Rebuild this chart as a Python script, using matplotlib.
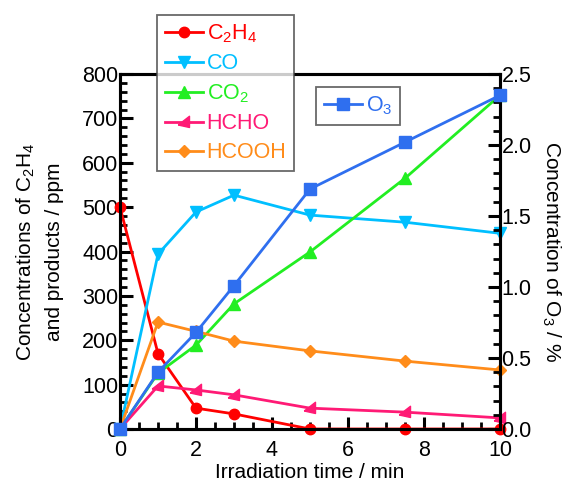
import numpy as np
import matplotlib.pyplot as plt
from matplotlib.ticker import MultipleLocator

plt.rcParams['font.family'] = ['Liberation Sans', 'DejaVu Sans']
plt.rcParams['mathtext.fontset'] = 'custom'
plt.rcParams['mathtext.rm'] = 'Liberation Sans'
plt.rcParams['mathtext.it'] = 'Liberation Sans'

# data
time = [0, 1, 2, 3, 5, 7.5, 10]
c2h4 = [500, 170, 47, 34, 0, 0, 0]
co = [0, 394, 489, 527, 482, 466, 441]
co2 = [0, 126, 189, 282, 399, 565, 752]
hcho = [0, 97, 88, 77, 47, 38, 25]
hcooh = [0, 241, 220, 198, 176, 153, 133]
o3 = [0, 0.40, 0.68, 1.01, 1.69, 2.02, 2.35]

# skewed wedge used for HCHO
wedge = [(-1, -0.4), (0.8, 1), (0.8, -0.8), (-1, -0.4)]

series = [
    (c2h4, 'C$_2$H$_4$', '#ff0000', 'o', 7.5),
    (co, 'CO', '#00bfff', 'v', 8),
    (co2, 'CO$_2$', '#22ee22', '^', 8),
    (hcho, 'HCHO', '#ff1a75', wedge, 9),
    (hcooh, 'HCOOH', '#ff8c1a', 'D', 6),
]

fig = plt.figure(figsize=(5.64, 4.87), dpi=100)
ax = fig.add_axes([120 / 564, 1 - 429 / 487, 380 / 564, 355 / 487])
ax2 = ax.twinx()

lines = []
for vals, lab, col, mk, ms in series:
    ln, = ax.plot(time, vals, color=col, marker=mk, markersize=ms, lw=2,
                  label=lab, clip_on=False, zorder=3)
    lines.append(ln)

o3line, = ax2.plot(time, o3, color='#2f6fef', marker='s', markersize=8.5,
                   lw=2, label='O$_3$', clip_on=False, zorder=3)

ax.set_xlim(0, 10)
ax.set_ylim(0, 800)
ax2.set_ylim(0, 2.5)

ax.xaxis.set_major_locator(MultipleLocator(2))
ax.xaxis.set_minor_locator(MultipleLocator(0.5))
ax.yaxis.set_major_locator(MultipleLocator(100))
ax.yaxis.set_minor_locator(MultipleLocator(20))
ax2.yaxis.set_major_locator(MultipleLocator(0.5))
ax2.yaxis.set_minor_locator(MultipleLocator(0.1))
ax2.yaxis.set_major_formatter(plt.FormatStrFormatter('%.1f'))

for a in (ax, ax2):
    for s in a.spines.values():
        s.set_linewidth(2.2)
    a.tick_params(which='major', direction='in', length=9, width=2.2,
                  labelsize=15.5, pad=1)
    a.tick_params(which='minor', direction='in', length=5, width=2)
ax.tick_params(axis='y', which='both', right=False)
ax.tick_params(axis='x', pad=8)
ax2.tick_params(axis='y', which='both', left=False)

ax.set_xlabel('Irradiation time / min', fontsize=15, labelpad=1)
ax.set_ylabel('Concentrations of C$_2$H$_4$\nand products / ppm', fontsize=15,
              labelpad=13, linespacing=1.55)
ax2.set_ylabel('Concentration of O$_3$ / %', fontsize=15, rotation=270,
               labelpad=22)

leg = fig.legend(handles=lines, loc='upper left',
                 bbox_to_anchor=(157 / 564, 1 - 15 / 487),
                 fontsize=15.5, frameon=True, fancybox=False, handlelength=1.8,
                 handletextpad=0.15, labelspacing=0.38, borderpad=0.35,
                 borderaxespad=0)
leg.get_frame().set_edgecolor('#444444')
leg.get_frame().set_linewidth(1.3)
for t, (vals, lab, col, mk, ms) in zip(leg.get_texts(), series):
    t.set_color(col)
leg.set_zorder(10)

leg2 = fig.legend(handles=[o3line], loc='upper left',
                  bbox_to_anchor=(316 / 564, 1 - 87 / 487), fontsize=15.5,
                  frameon=True, fancybox=False, handlelength=1.8,
                  handletextpad=0.15, borderpad=0.35, borderaxespad=0)
leg2.get_frame().set_edgecolor('#444444')
leg2.get_frame().set_linewidth(1.3)
leg2.get_texts()[0].set_color('#2f6fef')

fig.savefig('out.png', dpi=100)
